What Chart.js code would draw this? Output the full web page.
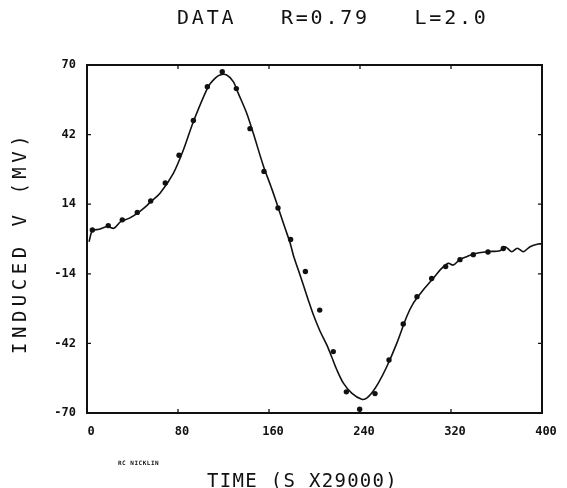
<!DOCTYPE html>
<html>
<head>
<meta charset="utf-8">
<script src="https://cdn.jsdelivr.net/npm/chart.js@4.4.1/dist/chart.umd.min.js"></script>
<style>
  body { margin: 0; background: #fff; }
  canvas { display: block; }
</style>
</head>
<body>
<canvas id="inducedChart" width="567" height="488"></canvas>
<script>
// measured points (dots)
const dotTime = [4.7, 18.7, 31, 44.2, 56, 68.8, 80.9, 93.5, 105.8, 118.9, 131.3, 143.3, 155.6, 167.9, 179,
    192, 204.6, 216.5, 228, 239.7, 253.2, 265.5, 278, 290.1, 303, 315.3, 327.9, 339.6, 352.5, 366];
const dotVolt = [3.6, 5.4, 7.7, 10.7, 15.3, 22.5, 33.7, 47.7, 61.3, 67.3, 60.5, 44.4, 27.2, 12.5, -0.2,
    -13.1, -28.6, -45.3, -61.5, -68.5, -62.2, -48.7, -34.2, -23.2, -15.9, -11.1, -8.3, -6.3, -5.2, -3.8];

// fitted curve
const curveTime = [1.8, 4.7, 10.5, 17.8, 23.7, 29.6, 36.9, 44.2, 51.6, 56, 64.2, 75.9, 84.7, 93.5, 106.6,
    112.5, 116.9, 122.8, 128.6, 133, 140.4, 146.2, 155, 161.8, 166, 174, 178.5, 181.4, 185.8, 190.2,
    194.5, 199, 204.8, 210.7, 215, 219.5, 225.4, 232.7, 241.5, 245.9, 250.3, 256.1, 263.5, 272.3, 281.1,
    286.8, 295.6, 304.4, 311.8, 317.6, 322, 327.9, 333.8, 339.7, 351.4, 363.1, 367.5, 373.4, 378.3,
    383.6, 389.5, 396.7, 399.7];
const curveVolt = [-1.1, 3.3, 3.9, 5, 4.3, 7, 8.3, 10.3, 13, 15, 18.4, 26.4, 35.8, 47.2, 61.3,
    64.6, 66, 66, 63.3, 58.6, 50.6, 42.5, 29.5, 21, 15.5, 4.5, -1.5, -6.5, -12.5, -18.5,
    -24.5, -30.5, -37, -42.5, -47.3, -52.5, -58, -62, -64.5, -64, -62, -58, -51.4, -42, -31.2,
    -25.9, -20.5, -15.8, -11.8, -9.8, -10.5, -8.2, -7.1, -6, -5.1, -4.7, -3.1, -5.1, -3.7,
    -5.1, -3.1, -2, -2];

const xTicks = [0, 80, 160, 240, 320, 400];
const yTicks = [-70, -42, -14, 14, 42, 70];

const ink = '#111';
const plotFont = '"DejaVu Sans Mono", monospace';

// frame, inward tick marks and the plotter lettering
const plotterFrame = {
    id: 'plotterFrame',
    afterDraw(chart) {
        const ctx = chart.ctx;
        const a = chart.chartArea;
        const x = chart.scales.x;
        const y = chart.scales.y;
        ctx.save();
        ctx.strokeStyle = ink;
        ctx.lineWidth = 2;
        ctx.strokeRect(a.left, a.top, a.right - a.left, a.bottom - a.top);

        ctx.lineWidth = 1.3;
        ctx.beginPath();
        xTicks.forEach(v => {
            const px = x.getPixelForValue(v);
            ctx.moveTo(px, a.bottom); ctx.lineTo(px, a.bottom - 4);
            ctx.moveTo(px, a.top); ctx.lineTo(px, a.top + 4);
        });
        yTicks.forEach(v => {
            const py = y.getPixelForValue(v);
            ctx.moveTo(a.left, py); ctx.lineTo(a.left + 4, py);
            ctx.moveTo(a.right, py); ctx.lineTo(a.right - 4, py);
        });
        ctx.stroke();

        ctx.fillStyle = ink;
        ctx.textBaseline = 'middle';
        ctx.textAlign = 'left';

        // title
        ctx.font = '20px ' + plotFont;
        ctx.letterSpacing = '2.8px';
        ctx.fillText('DATA   R=0.79   L=2.0', 177, 19);

        // x title
        ctx.font = '19px ' + plotFont;
        ctx.letterSpacing = '1.3px';
        ctx.fillText('TIME (S X29000)', 207, 482);

        // y title
        ctx.save();
        ctx.translate(21, 354);
        ctx.rotate(-Math.PI / 2);
        ctx.font = '19px ' + plotFont;
        ctx.letterSpacing = '4.5px';
        ctx.fillText('INDUCED V (MV)', 0, 0);
        ctx.restore();

        // signature
        ctx.font = 'bold 6px ' + plotFont;
        ctx.letterSpacing = '0.5px';
        ctx.fillText('RC NICKLIN', 118, 463);
        ctx.restore();
    }
};

new Chart(document.getElementById('inducedChart'), {
    type: 'scatter',
    data: {
        datasets: [
            {
                label: 'fit',
                data: curveTime.map((t, i) => ({x: t, y: curveVolt[i]})),
                showLine: true,
                borderColor: ink,
                borderWidth: 1.6,
                pointRadius: 0,
                tension: 0.3,
                fill: false
            },
            {
                label: 'data',
                data: dotTime.map((t, i) => ({x: t, y: dotVolt[i]})),
                backgroundColor: ink,
                borderColor: ink,
                borderWidth: 0,
                pointRadius: 2.7
            }
        ]
    },
    options: {
        responsive: false,
        animation: false,
        layout: {
            padding: {left: 0, right: 25, top: 65, bottom: 0}
        },
        plugins: {
            legend: {display: false},
            tooltip: {enabled: false}
        },
        scales: {
            x: {
                type: 'linear',
                min: 0,
                max: 400,
                afterFit: scale => { scale.height = 75; },
                afterBuildTicks: scale => { scale.ticks = xTicks.map(v => ({value: v})); },
                grid: {display: false},
                border: {display: false},
                ticks: {
                    color: ink,
                    padding: 4,
                    labelOffset: 4,
                    maxRotation: 0,
                    font: {family: plotFont, size: 12, weight: 'bold'}
                }
            },
            y: {
                type: 'linear',
                min: -70,
                max: 70,
                afterFit: scale => { scale.width = 87; },
                afterBuildTicks: scale => { scale.ticks = yTicks.map(v => ({value: v})); },
                grid: {display: false},
                border: {display: false},
                ticks: {
                    color: ink,
                    padding: 3,
                    font: {family: plotFont, size: 12, weight: 'bold'}
                }
            }
        }
    },
    plugins: [plotterFrame]
});
</script>
</body>
</html>
